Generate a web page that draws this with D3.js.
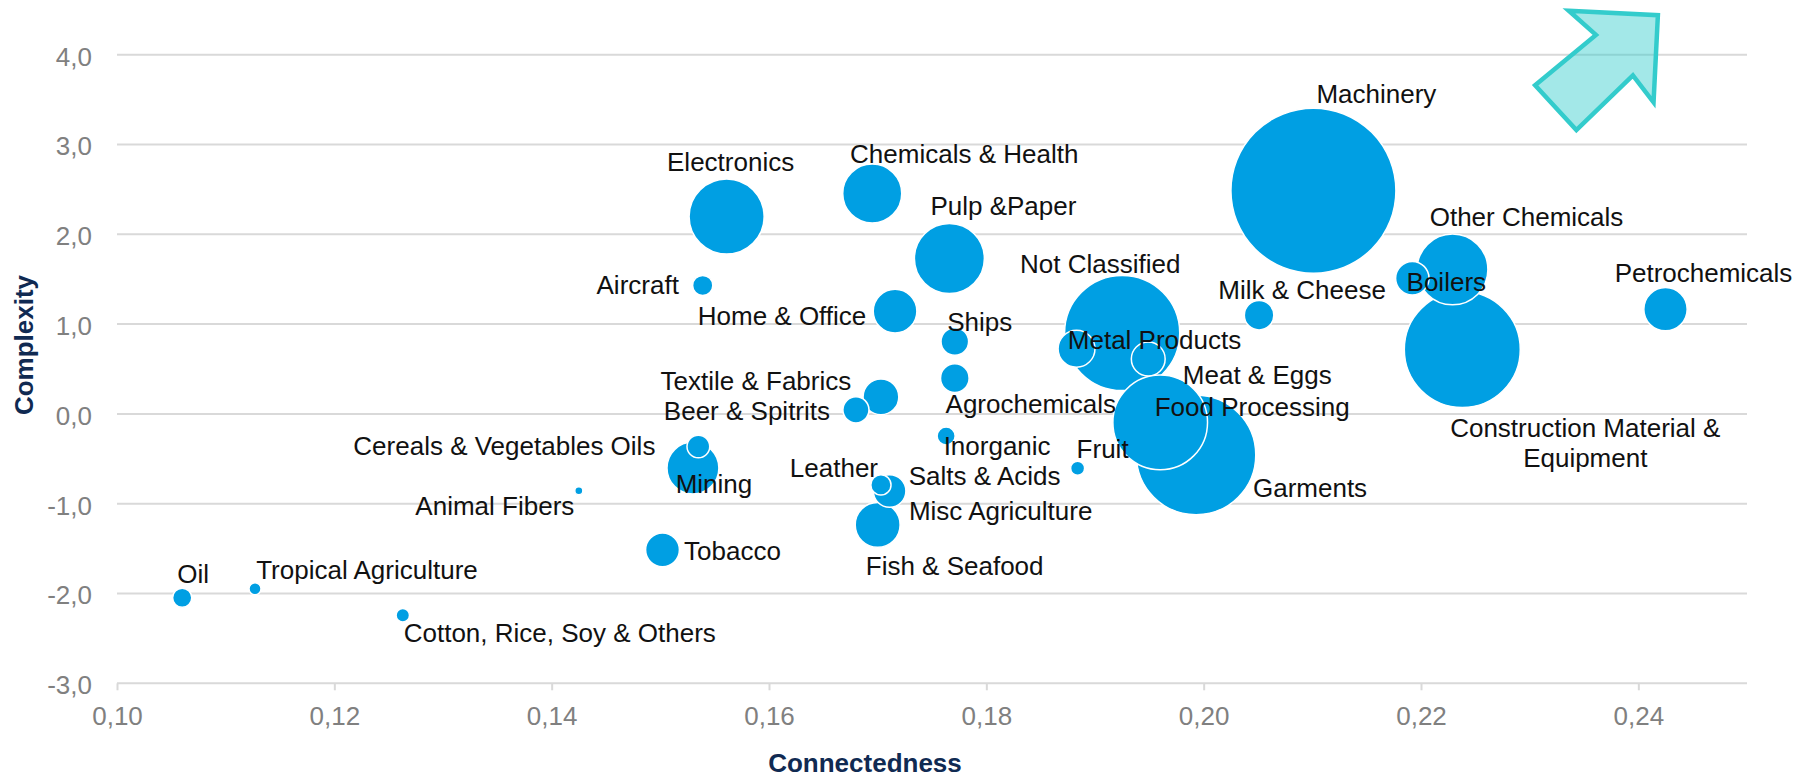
<!DOCTYPE html>
<html>
<head>
<meta charset="utf-8">
<script src="https://cdn.jsdelivr.net/npm/d3@7/dist/d3.min.js"></script>
<style>
  html, body { margin: 0; padding: 0; background: #ffffff; }
  svg { display: block; }
  text { font-family: "Liberation Sans", Arial, Helvetica, sans-serif; }
</style>
</head>
<body>
<svg id="chart" width="1812" height="777"></svg>
<script>
// Industry groups: connectedness (x), complexity (y) and relative export size (bubble area)
const categories = [
  "Machinery", "Electronics", "Chemicals & Health", "Pulp &Paper", "Other Chemicals",
  "Boilers", "Construction Material & Equipment", "Petrochemicals", "Milk & Cheese", "Not Classified",
  "Metal Products", "Meat & Eggs", "Food Processing", "Garments", "Fruit",
  "Inorganic", "Agrochemicals", "Ships", "Home & Office", "Aircraft",
  "Textile & Fabrics", "Beer & Spitrits", "Leather", "Salts & Acids", "Misc Agriculture",
  "Fish & Seafood", "Cereals & Vegetables Oils", "Mining", "Animal Fibers", "Tobacco",
  "Oil", "Tropical Agriculture", "Cotton, Rice, Soy & Others"
];
const connectedness = [
  0.2101, 0.1561, 0.1695, 0.1766, 0.2229,
  0.2192, 0.2238, 0.2425, 0.2051, 0.1925,
  0.1883, 0.1949, 0.1960, 0.1993, 0.1884,
  0.1763, 0.1771, 0.1771, 0.1716, 0.1539,
  0.1703, 0.1680, 0.1703, 0.1711, 0.1700,
  0.1700, 0.1535, 0.1530, 0.1425, 0.1502,
  0.1060, 0.1127, 0.1263
];
const complexity = [
  2.486, 2.198, 2.454, 1.731, 1.609,
  1.511, 0.718, 1.166, 1.099, 0.901,
  0.726, 0.611, -0.095, -0.457, -0.605,
  -0.246, 0.398, 0.807, 1.144, 1.430,
  0.189, 0.045, -0.791, -0.859, -1.236,
  -1.236, -0.363, -0.602, -0.855, -1.514,
  -2.047, -1.947, -2.242
];
const exportSize = [
  100, 20.7, 12.8, 18.0, 18.4,
  4.1, 49.4, 6.9, 3.2, 48.7,
  5.0, 4.2, 32.9, 52.4, 0.72,
  1.2, 3.0, 2.8, 7.0, 1.5,
  4.7, 2.5, 1.5, 3.9, 7.4,
  7.4, 1.9, 9.9, 0.24, 4.2,
  1.35, 0.53, 0.66
];
const xTickValues = [0.10, 0.12, 0.14, 0.16, 0.18, 0.20, 0.22, 0.24];
const yTickValues = [-3, -2, -1, 0, 1, 2, 3, 4];

// Label placement: pixel offset of the label centre/baseline from its bubble centre
const labelOffsets = [
  [63, -88], [4, -46], [92, -31], [54, -43], [74, -43],
  [34, 13], [123, 88], [38, -27], [43, -16], [-22, -60],
  [78, 0], [109, 25], [92, -6], [114, 42], [25, -10],
  [51, 19], [76, 35], [25, -10], [-113, 14], [-65, 9],
  [-125, -7], [-109, 10], [-47, -8], [95, -6], [123, -5],
  [77, 50], [-194, 9], [21, 25], [-84, 24], [70, 10],
  [11, -15], [112, -10], [157, 27]
];
const labelLines = {
  "Construction Material & Equipment": ["Construction Material &", "Equipment"]
};

// Direction arrow in the upper right, in data units
const arrowConn = [0.2336, 0.2418, 0.2414, 0.2395, 0.2343, 0.2305, 0.2361];
const arrowComp = [4.49, 4.44, 3.47, 3.77, 3.16, 3.66, 4.22];

const svg = d3.select("#chart");

const x = d3.scaleLinear().domain([0.10, 0.25]).range([117, 1747]);
const y = d3.scaleLinear().domain([-3, 4]).range([683.3, 54.7]);
const r = d3.scaleSqrt().domain([0, 100]).range([0, 82.5]);

const locale = d3.formatLocale({ decimal: ",", thousands: ".", grouping: [3], currency: ["", ""], minus: "-" });
const fx = locale.format(".2f");
const fy = locale.format(".1f");

const gridColor = "#d9d9d9";

// Horizontal gridlines (the -3 line doubles as the x axis line)
svg.append("g")
  .selectAll("line")
  .data(yTickValues)
  .join("line")
  .attr("x1", x.range()[0])
  .attr("x2", x.range()[1])
  .attr("y1", d => y(d))
  .attr("y2", d => y(d))
  .attr("stroke", gridColor)
  .attr("stroke-width", 2);

// X axis ticks and labels
const xAxis = svg.append("g")
  .attr("transform", `translate(0,${y(-3)})`)
  .call(d3.axisBottom(x).tickValues(xTickValues).tickFormat(fx).tickSize(7).tickPadding(16));
xAxis.select(".domain").remove();
xAxis.selectAll(".tick line").attr("stroke", gridColor).attr("stroke-width", 2);
xAxis.selectAll(".tick text")
  .attr("fill", "#808080")
  .style("font-size", "26px")
  .style("font-family", "'Liberation Sans', Arial, sans-serif");

// Y axis labels
const yAxis = svg.append("g")
  .attr("transform", `translate(${x.range()[0]},0)`)
  .call(d3.axisLeft(y).tickValues(yTickValues).tickFormat(fy).tickSize(0).tickPadding(25));
yAxis.select(".domain").remove();
yAxis.selectAll(".tick text")
  .attr("fill", "#808080")
  .attr("dy", "0.4em")
  .style("font-size", "26px")
  .style("font-family", "'Liberation Sans', Arial, sans-serif");

// Axis titles
svg.append("text")
  .attr("x", 865)
  .attr("y", 772)
  .attr("text-anchor", "middle")
  .attr("fill", "#102a52")
  .style("font-size", "26px")
  .style("font-weight", "bold")
  .text("Connectedness");

svg.append("text")
  .attr("transform", "translate(33,345) rotate(-90)")
  .attr("text-anchor", "middle")
  .attr("fill", "#102a52")
  .style("font-size", "26px")
  .style("font-weight", "bold")
  .text("Complexity");

// Arrow pointing towards higher connectedness and complexity
const arrowPts = arrowConn.map((c, i) => [x(c), y(arrowComp[i])]);
svg.append("path")
  .attr("d", d3.line()(arrowPts) + "Z")
  .attr("fill", "#33cccc")
  .attr("fill-opacity", 0.45)
  .attr("stroke", "#33cccc")
  .attr("stroke-width", 4.5)
  .attr("stroke-linejoin", "miter");

// Bubbles, largest first so smaller ones stay visible on top
const rows = categories.map((name, i) => ({
  name,
  conn: connectedness[i],
  comp: complexity[i],
  size: exportSize[i],
  off: labelOffsets[i]
}));
const drawOrder = rows.slice().sort((a, b) => b.size - a.size);

svg.append("g")
  .selectAll("circle")
  .data(drawOrder)
  .join("circle")
  .attr("cx", d => x(d.conn))
  .attr("cy", d => y(d.comp))
  .attr("r", d => r(d.size))
  .attr("fill", "#009fe3")
  .attr("stroke", "#ffffff")
  .attr("stroke-width", 1.5);

// Data labels
const labels = svg.append("g")
  .selectAll("text")
  .data(rows)
  .join("text")
  .attr("text-anchor", "middle")
  .attr("fill", "#111111")
  .style("font-size", "26px");

labels.each(function(d) {
  const lines = labelLines[d.name] || [d.name];
  const t = d3.select(this);
  const cx = x(d.conn) + d.off[0];
  const cy = y(d.comp) + d.off[1];
  lines.forEach((ln, k) => {
    t.append("tspan")
      .attr("x", cx)
      .attr("y", cy + k * 30)
      .text(ln);
  });
});
</script>
</body>
</html>
